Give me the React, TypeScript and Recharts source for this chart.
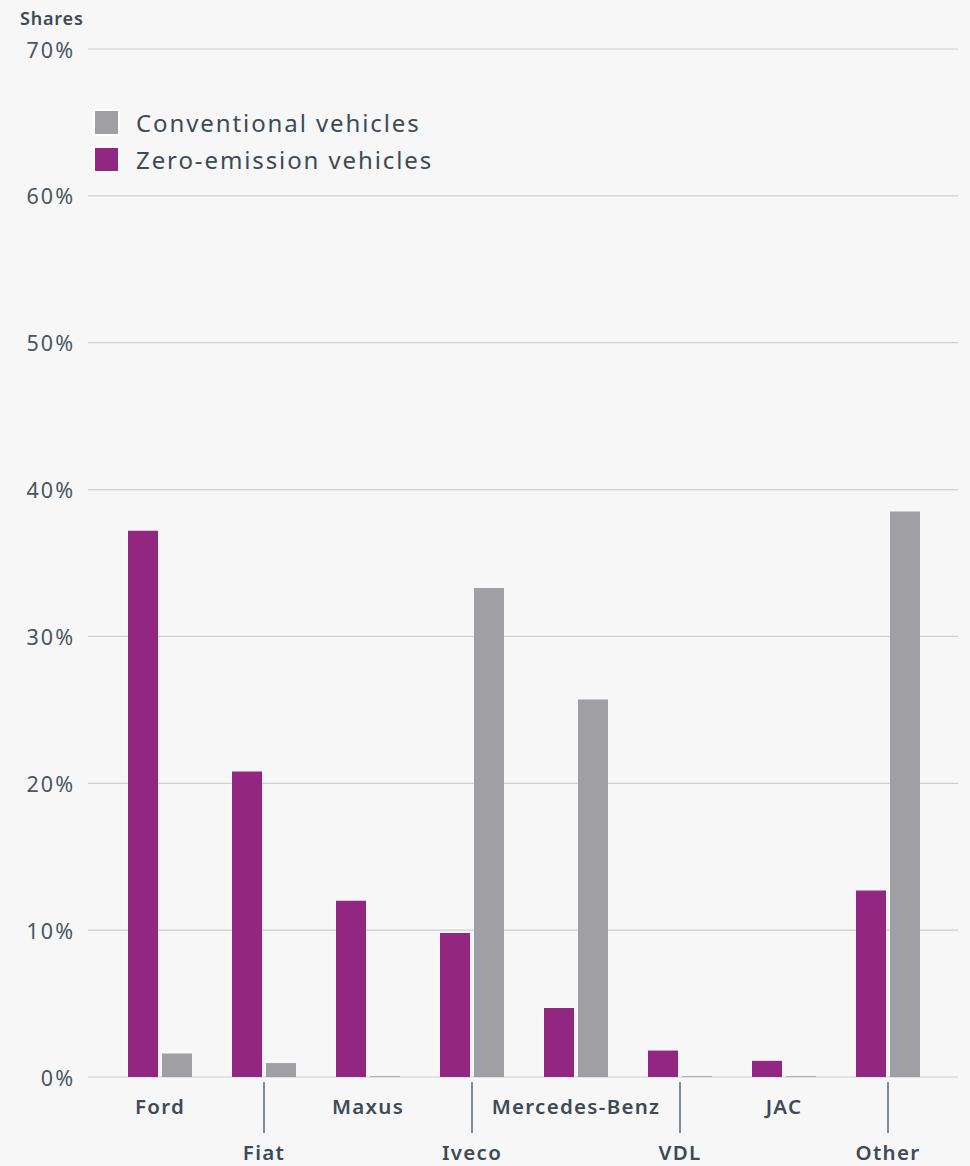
import React from "react";
import { BarChart, Bar, XAxis, YAxis, CartesianGrid } from "recharts";

const categories = ["Ford", "Fiat", "Maxus", "Iveco", "Mercedes-Benz", "VDL", "JAC", "Other"];
const zeroEmission = [37.2, 20.8, 12.0, 9.8, 4.7, 1.8, 1.1, 12.7];
const conventional = [1.6, 0.95, 0.05, 33.3, 25.7, 0.05, 0.05, 38.5];
const yTicks = [0, 10, 20, 30, 40, 50, 60, 70];
const legendItems = ["Conventional vehicles", "Zero-emission vehicles"];

const ZEV_COLOR = "#922681";
const CONV_COLOR = "#9f9fa4";
const TEXT = "#3e4a55";
const FONT = "'Noto Sans', sans-serif";

const data = categories.map((c, i) => ({
  name: c,
  zev: zeroEmission[i],
  conv: conventional[i],
}));

const CatTick = (props: any) => {
  const { x, y, payload, index } = props;
  const odd = index % 2 === 1;
  return (
    <g>
      {odd && <line x1={x} x2={x} y1={y - 3} y2={y + 48} stroke="#5c6770" strokeWidth={1.5} />}
      <text
        x={x}
        y={odd ? y + 67 : y + 21}
        textAnchor="middle"
        dominantBaseline="central"
        fill={TEXT}
        fontFamily={FONT}
        fontSize={20.5}
        fontWeight={600}
        letterSpacing={1.3}
      >
        {payload.value}
      </text>
    </g>
  );
};

const YTick = (props: any) => {
  const { x, y, payload } = props;
  return (
    <text
      x={x}
      y={y}
      textAnchor="end"
      dominantBaseline="central"
      fill="#4a555f"
      fontFamily={FONT}
      fontSize={21.5}
      letterSpacing={2}
    >
      {`${payload.value}%`}
    </text>
  );
};

export default function App() {
  const colors = [CONV_COLOR, ZEV_COLOR];
  return (
    <div
      style={{
        position: "fixed",
        left: 0,
        top: 0,
        width: 970,
        height: 1166,
        background: "#f7f7f7",
      }}
    >
      <div
        style={{
          position: "absolute",
          left: 20,
          top: 6,
          fontFamily: FONT,
          fontSize: 18,
          fontWeight: 600,
          letterSpacing: 0.8,
          color: TEXT,
        }}
      >
        Shares
      </div>
      <BarChart
        width={970}
        height={1166}
        data={data}
        margin={{ top: 49, right: 12, left: 0, bottom: 0 }}
        barSize={30}
        barGap={4}
      >
        <CartesianGrid vertical={false} stroke="#cfcfd3" strokeWidth={1.2} />
        <XAxis
          dataKey="name"
          axisLine={false}
          tickLine={false}
          interval={0}
          padding={{ left: 20, right: 18 }}
          tick={<CatTick />}
          height={89}
        />
        <YAxis
          width={88}
          domain={[0, 70]}
          ticks={yTicks}
          axisLine={false}
          tickLine={false}
          tickSize={0}
          tickMargin={13}
          tick={<YTick />}
        />
        <Bar dataKey="zev" name="Zero-emission vehicles" fill={ZEV_COLOR} isAnimationActive={false} />
        <Bar dataKey="conv" name="Conventional vehicles" fill={CONV_COLOR} isAnimationActive={false} />
      </BarChart>
      <div style={{ position: "absolute", left: 93, top: 104 }}>
        {legendItems.map((label, i) => (
          <div key={label} style={{ display: "flex", alignItems: "center", height: 37 }}>
            <div
              style={{
                width: 27,
                height: 27,
                background: colors[i],
                border: "2px solid #ffffff",
                boxSizing: "border-box",
                marginRight: 16,
              }}
            />
            <span style={{ fontFamily: FONT, fontSize: 24, letterSpacing: 1.9, color: TEXT }}>{label}</span>
          </div>
        ))}
      </div>
    </div>
  );
}
